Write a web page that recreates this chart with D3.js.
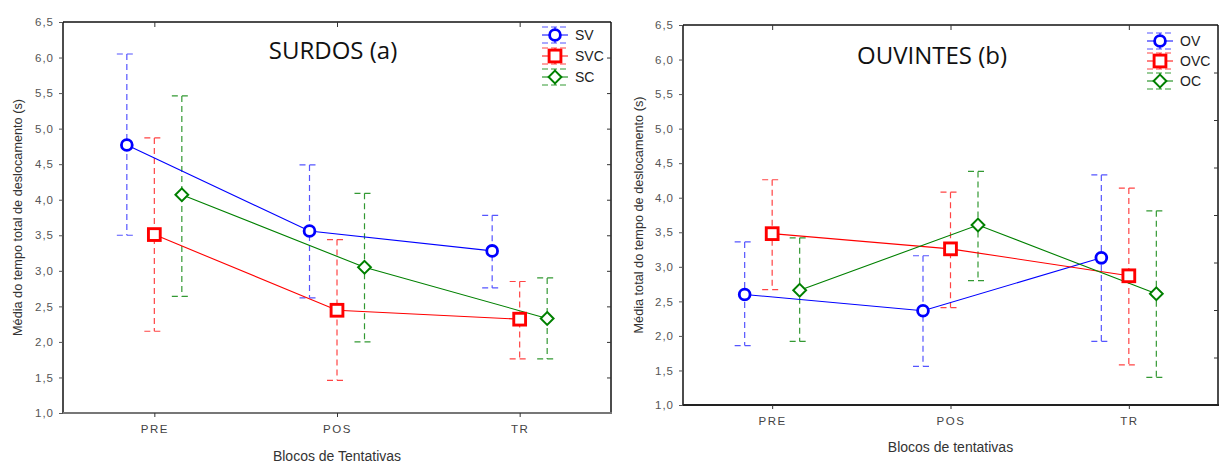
<!DOCTYPE html>
<html><head><meta charset="utf-8">
<script src="https://cdn.jsdelivr.net/npm/d3@7"></script>
<style>body{margin:0;background:#fff}svg text{font-family:"Liberation Sans",Arial,sans-serif}</style>
</head><body><svg id="c" width="1221" height="464"></svg>
<script>
const categories = ["PRE","POS","TR"];
const yTicks = [1.0,1.5,2.0,2.5,3.0,3.5,4.0,4.5,5.0,5.5,6.0,6.5];
// SURDOS (a)
const surdosNames = ["SV","SVC","SC"];
const SV_mean  = [4.77, 3.56, 3.28];
const SV_low   = [3.50, 2.62, 2.76];
const SV_high  = [6.05, 4.49, 3.78];
const SVC_mean = [3.51, 2.445, 2.32];
const SVC_low  = [2.15, 1.46, 1.76];
const SVC_high = [4.87, 3.44, 2.85];
const SC_mean  = [4.07, 3.05, 2.33];
const SC_low   = [2.64, 2.00, 1.76];
const SC_high  = [5.46, 4.09, 2.90];
// OUVINTES (b)
const ouvintesNames = ["OV","OVC","OC"];
const OV_mean  = [2.60, 2.365, 3.13];
const OV_low   = [1.86, 1.56, 1.92];
const OV_high  = [3.36, 3.16, 4.33];
const OVC_mean = [3.48, 3.26, 2.87];
const OVC_low  = [2.67, 2.41, 1.58];
const OVC_high = [4.26, 4.08, 4.14];
const OC_mean  = [2.66, 3.605, 2.61];
const OC_low   = [1.92, 2.80, 1.40];
const OC_high  = [3.42, 4.38, 3.81];
const rightAxisTicks = [1,2,3,4,5,6,7];

const colors = ["#0000ff","#ff0000","#008000"];
const errColors = ["#5555ff","#ff4444","#339933"];
const shapes = ["circle","square","diamond"];
const fmt = d => d.toFixed(1).replace(".", ",");
const svg = d3.select("#c");

function drawMarker(g, shape, x, y, color) {
  if (shape === "circle") {
    g.append("circle").attr("cx", x).attr("cy", y).attr("r", 5.4)
      .attr("fill", "#fff").attr("stroke", color).attr("stroke-width", 2.8);
  } else if (shape === "square") {
    g.append("rect").attr("x", x - 5.9).attr("y", y - 5.9).attr("width", 11.8).attr("height", 11.8)
      .attr("fill", "#fff").attr("stroke", color).attr("stroke-width", 2.9);
  } else {
    g.append("path").attr("d", `M${x},${y-6.4}L${x+6.4},${y}L${x},${y+6.4}L${x-6.4},${y}Z`)
      .attr("fill", "#fff").attr("stroke", color).attr("stroke-width", 2);
  }
}

function panel(o) {
  const g = svg.append("g");
  const x = d3.scalePoint().domain(categories).range([o.x0, o.x1]).padding(0.5);
  const y = d3.scaleLinear().domain([1, 6.5]).range([o.y1, o.y0]);
  // frame
  g.append("line").attr("x1", o.x0).attr("x2", o.x1).attr("y1", o.y0).attr("y2", o.y0).attr("stroke", "#111").attr("stroke-width", 1.5);
  g.append("line").attr("x1", o.x1).attr("x2", o.x1).attr("y1", o.y0).attr("y2", o.y1).attr("stroke", "#111").attr("stroke-width", 1.5);
  g.append("line").attr("x1", o.x0).attr("x2", o.x0).attr("y1", o.y0).attr("y2", o.y1).attr("stroke", "#111").attr("stroke-width", 1.5);
  g.append("line").attr("x1", o.x0).attr("x2", o.x1 + 1).attr("y1", o.y1).attr("y2", o.y1).attr("stroke", o.bottomColor).attr("stroke-width", 2);
  // y axis
  const ya = g.append("g").attr("transform", `translate(${o.x0},0)`)
    .call(d3.axisLeft(y).tickValues(yTicks).tickFormat(fmt).tickSize(4).tickPadding(5));
  ya.select(".domain").remove();
  ya.selectAll("line").attr("stroke", "#555");
  ya.selectAll("text").attr("fill", "#555").attr("font-size", 11.5).style("letter-spacing", "1px");
  // right ticks
  const yr = o.rightScale ? d3.scaleLinear().domain([0, 8]).range([o.y1, o.y0]) : y;
  const rv = o.rightScale ? rightAxisTicks : yTicks.slice(1, -1);
  const ra = g.append("g").attr("transform", `translate(${o.x1},0)`)
    .call(d3.axisLeft(yr).tickValues(rv).tickFormat("").tickSize(4));
  ra.select(".domain").remove();
  ra.selectAll("line").attr("stroke", "#333");
  // x axis bottom
  const xa = g.append("g").attr("transform", `translate(0,${o.y1})`)
    .call(d3.axisBottom(x).tickSize(4).tickPadding(8));
  xa.select(".domain").remove();
  xa.selectAll("line").attr("stroke", "#333");
  xa.selectAll("text").attr("fill", "#444").attr("font-size", 11.5).style("letter-spacing", "1.5px");
  // top ticks
  const ta = g.append("g").attr("transform", `translate(0,${o.y0})`)
    .call(d3.axisBottom(x).tickSize(5).tickFormat(""));
  ta.select(".domain").remove();
  ta.selectAll("line").attr("stroke", "#333");
  // labels
  g.append("text").attr("transform", `translate(${o.ylabX},${(o.y0 + o.y1) / 2}) rotate(-90)`)
    .attr("text-anchor", "middle").attr("font-size", 12.7).attr("fill", "#333").text(o.ylabel);
  g.append("text").attr("x", (o.x0 + o.x1) / 2).attr("y", o.xlabY).attr("text-anchor", "middle")
    .attr("font-size", 14).attr("fill", "#333").text(o.xlabel);
  g.append("text").attr("x", o.titleX).attr("y", o.titleY).attr("text-anchor", "middle")
    .style("font-family", "'Open Sans',sans-serif").attr("font-size", 24).attr("fill", "#111").text(o.title);
  const offs = [-27.5, 0, 27.5];
  // error bars
  o.series.forEach((s, i) => {
    const eg = g.append("g").attr("stroke", errColors[i]).attr("stroke-width", 1.2).attr("stroke-dasharray", "6,4").attr("fill", "none");
    categories.forEach((c, j) => {
      const cx = x(c) + offs[i];
      eg.append("line").attr("x1", cx).attr("x2", cx).attr("y1", y(s.high[j])).attr("y2", y(s.low[j]));
      eg.append("line").attr("x1", cx - 10).attr("x2", cx + 10).attr("y1", y(s.high[j])).attr("y2", y(s.high[j]));
      eg.append("line").attr("x1", cx - 10).attr("x2", cx + 10).attr("y1", y(s.low[j])).attr("y2", y(s.low[j]));
    });
  });
  // lines
  o.series.forEach((s, i) => {
    const line = d3.line().x((d, j) => x(categories[j]) + offs[i]).y(d => y(d));
    g.append("path").attr("d", line(s.mean)).attr("fill", "none").attr("stroke", colors[i]).attr("stroke-width", 1.1);
  });
  o.series.forEach((s, i) => {
    categories.forEach((c, j) => drawMarker(g, shapes[i], x(c) + offs[i], y(s.mean[j]), colors[i]));
  });
  // legend
  o.series.forEach((s, i) => {
    const lx = o.legX, ly = o.legY + i * o.legDy;
    const lg = g.append("g");
    lg.append("line").attr("x1", lx - 13).attr("x2", lx + 13).attr("y1", ly - 8).attr("y2", ly - 8).attr("stroke", errColors[i]).attr("stroke-dasharray", "6,3");
    lg.append("line").attr("x1", lx - 13).attr("x2", lx + 13).attr("y1", ly + 8).attr("y2", ly + 8).attr("stroke", errColors[i]).attr("stroke-dasharray", "6,3");
    lg.append("line").attr("x1", lx).attr("x2", lx).attr("y1", ly - 8).attr("y2", ly + 8).attr("stroke", colors[i]);
    lg.append("line").attr("x1", lx - 13).attr("x2", lx + 13).attr("y1", ly).attr("y2", ly).attr("stroke", colors[i]);
    drawMarker(lg, shapes[i], lx, ly, colors[i]);
    lg.append("text").attr("x", lx + 20).attr("y", ly + 5).attr("font-size", 14).attr("fill", "#222").text(o.names[i]);
  });
}

panel({x0: 63, x1: 611, y0: 22, y1: 413, bottomColor: "#777",
  title: "SURDOS (a)", titleX: 333, titleY: 59,
  ylabel: "Média do tempo total de deslocamento (s)", ylabX: 22,
  xlabel: "Blocos de Tentativas", xlabY: 461,
  names: surdosNames, legX: 555, legY: 35, legDy: 21,
  series: [{mean: SV_mean, low: SV_low, high: SV_high},
           {mean: SVC_mean, low: SVC_low, high: SVC_high},
           {mean: SC_mean, low: SC_low, high: SC_high}]});

panel({x0: 683, x1: 1218, y0: 25, y1: 405, bottomColor: "#222", rightScale: true,
  title: "OUVINTES (b)", titleX: 932, titleY: 64,
  ylabel: "Média total do tempo de deslocamento (s)", ylabX: 643,
  xlabel: "Blocos de tentativas", xlabY: 452,
  names: ouvintesNames, legX: 1160, legY: 41, legDy: 20,
  series: [{mean: OV_mean, low: OV_low, high: OV_high},
           {mean: OVC_mean, low: OVC_low, high: OVC_high},
           {mean: OC_mean, low: OC_low, high: OC_high}]});
</script></body></html>
